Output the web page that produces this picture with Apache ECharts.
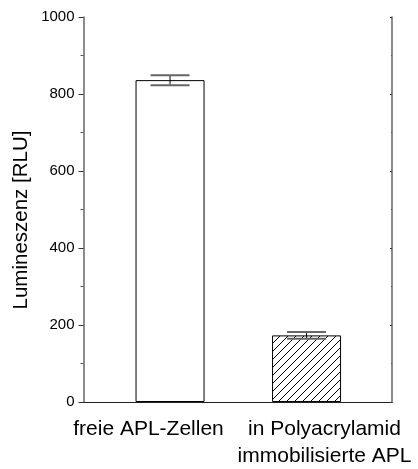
<!DOCTYPE html>
<html>
<head>
<meta charset="utf-8">
<script src="https://cdn.jsdelivr.net/npm/echarts@6/dist/echarts.min.js"></script>
<style>
  html, body { margin: 0; padding: 0; background: #fff; }
  #chart { width: 418px; height: 469px; }
</style>
</head>
<body>
<div id="chart"></div>
<script>
// Sample groups and their mean luminescence with standard deviation
const categories = ['freie APL-Zellen', 'in Polyacrylamid\nimmobilisierte APL'];
const positions = [1, 2];
const values = [836, 173];
const errors = [13, 9];
const yTitle = 'Lumineszenz [RLU]';

const FONT = '"Liberation Sans", Arial, sans-serif';

// Diagonal hatch pattern for the immobilised sample
function hatchPattern() {
  const c = document.createElement('canvas');
  c.width = 8; c.height = 8;
  const g = c.getContext('2d');
  g.fillStyle = '#fff';
  g.fillRect(0, 0, 8, 8);
  g.strokeStyle = '#000';
  g.lineWidth = 1;
  g.beginPath();
  g.moveTo(-1, 9); g.lineTo(9, -1);
  g.moveTo(-1, 1); g.lineTo(1, -1);
  g.moveTo(7, 9); g.lineTo(9, 7);
  g.stroke();
  return { image: c, repeat: 'repeat' };
}

const barData = values.map((v, i) => ({
  value: [positions[i], v],
  itemStyle: i === 1 ? { color: hatchPattern() } : { color: '#fff' }
}));

const errData = values.map((v, i) => [positions[i], v - errors[i], v + errors[i]]);

const chart = echarts.init(document.getElementById('chart'), null, { renderer: 'canvas' });
chart.setOption({
  animation: false,
  grid: { left: 83.5, right: 26, top: 17, bottom: 67, containLabel: false },
  xAxis: [{
    type: 'value', min: 0.366, max: 2.626, position: 'bottom',
    axisLine: { show: true, onZero: false, lineStyle: { color: '#000', width: 1 } },
    axisTick: { show: false }, axisLabel: { show: false }, splitLine: { show: false }
  }, {
    type: 'value', min: 0.366, max: 2.626, position: 'top',
    axisLine: { show: true, lineStyle: { color: '#222', width: 1 } },
    axisTick: { show: false }, axisLabel: { show: false }, splitLine: { show: false }
  }],
  yAxis: [{
    type: 'value', min: 0, max: 1000, interval: 200, position: 'left',
    axisLine: { show: true, lineStyle: { color: '#666', width: 1.5 } },
    axisTick: { show: true, inside: false, length: 5, lineStyle: { color: '#333' } },
    minorTick: { show: true, splitNumber: 2, length: 3, lineStyle: { color: '#555' } },
    axisLabel: { margin: 9, fontFamily: FONT, fontSize: 15, color: '#000', formatter: v => String(v) },
    splitLine: { show: false }
  }, {
    type: 'value', min: 0, max: 1000, interval: 200, position: 'right',
    axisLine: { show: true, lineStyle: { color: '#666', width: 1.5 } },
    axisTick: { show: true, inside: true, length: 2, lineStyle: { color: '#333' } },
    minorTick: { show: true, splitNumber: 2, length: 1, lineStyle: { color: '#555' } },
    axisLabel: { show: false }, splitLine: { show: false }
  }],
  series: [{
    type: 'bar',
    data: barData,
    barWidth: 69,
    itemStyle: { borderColor: '#000', borderWidth: 1 }
  }, {
    type: 'custom',
    data: errData,
    z: 5,
    renderItem: function (params, api) {
      const x = api.value(0);
      const lo = api.coord([x, api.value(1)]);
      const hi = api.coord([x, api.value(2)]);
      const half = 19.5;
      const st = { stroke: '#000', lineWidth: 1 };
      const cap = { stroke: '#666', lineWidth: 2 };
      return {
        type: 'group',
        children: [
          { type: 'line', shape: { x1: hi[0], y1: hi[1], x2: lo[0], y2: lo[1] }, style: st },
          { type: 'line', shape: { x1: hi[0] - half, y1: hi[1], x2: hi[0] + half, y2: hi[1] }, style: cap },
          { type: 'line', shape: { x1: lo[0] - half, y1: lo[1], x2: lo[0] + half, y2: lo[1] }, style: cap }
        ]
      };
    }
  }],
  graphic: [{
    type: 'text', x: 21, y: 220, rotation: Math.PI / 2,
    style: { text: yTitle, font: '20.5px ' + FONT, fill: '#000', textAlign: 'center', textVerticalAlign: 'middle' }
  }, {
    type: 'text', x: 148.5, y: 429.5,
    style: { text: categories[0], font: '21px ' + FONT, fill: '#000', textAlign: 'center', textVerticalAlign: 'middle' }
  }, {
    type: 'text', x: 324.5, y: 443,
    style: { text: categories[1], font: '21px ' + FONT, fill: '#000', textAlign: 'center', textVerticalAlign: 'middle', lineHeight: 27 }
  }]
});
</script>
</body>
</html>
